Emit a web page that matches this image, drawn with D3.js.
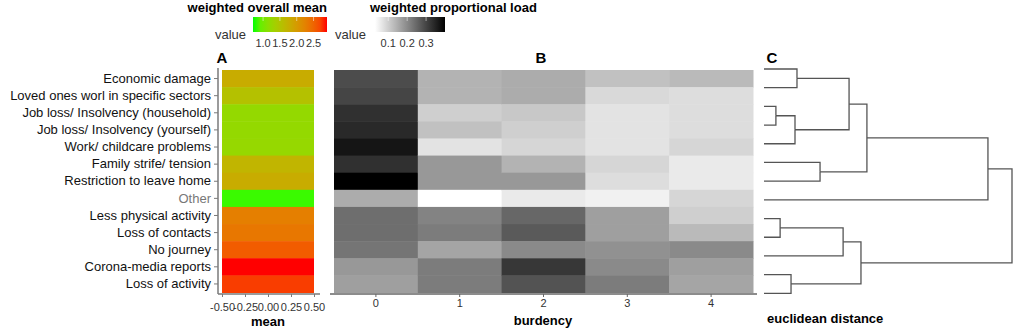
<!DOCTYPE html>
<html>
<head>
<meta charset="utf-8">
<title>burden heatmap</title>
<style>
  body { margin: 0; background: #fff; }
  svg { display: block; font-family: "Liberation Sans", Arial, sans-serif; }
</style>
</head>
<body>
<svg width="1021" height="334"></svg>
<script src="https://cdn.jsdelivr.net/npm/d3@7"></script>
<script>

// rows, top to bottom (same order as the dendrogram leaves)
const items = [
  "Economic damage", "Loved ones worl in specific sectors", "Job loss/ Insolvency (household)",
  "Job loss/ Insolvency (yourself)", "Work/ childcare problems", "Family strife/ tension",
  "Restriction to leave home", "Other", "Less physical activity", "Loss of contacts",
  "No journey", "Corona-media reports", "Loss of activity"
]

// panel A: weighted overall mean per item
const overallMean = [1.80, 1.54, 1.22, 1.22, 1.24, 1.69, 1.80, 0.77, 2.28, 2.35, 2.57, 2.90, 2.75]

// panel B: weighted proportional load, burdency 0..4
const burdency = [0, 1, 2, 3, 4]
const loadB0 = [0.29, 0.30, 0.33, 0.34, 0.37, 0.33, 0.40, 0.15, 0.24, 0.24, 0.23, 0.18, 0.17]
const loadB1 = [0.14, 0.14, 0.10, 0.12, 0.07, 0.18, 0.18, 0.03, 0.21, 0.22, 0.16, 0.22, 0.22]
const loadB2 = [0.15, 0.15, 0.11, 0.10, 0.09, 0.14, 0.18, 0.06, 0.25, 0.27, 0.20, 0.32, 0.28]
const loadB3 = [0.12, 0.085, 0.07, 0.07, 0.07, 0.09, 0.08, 0.05, 0.17, 0.17, 0.19, 0.20, 0.22]
const loadB4 = [0.13, 0.08, 0.08, 0.08, 0.09, 0.06, 0.06, 0.09, 0.10, 0.13, 0.20, 0.17, 0.16]
const loads = [loadB0, loadB1, loadB2, loadB3, loadB4]

// panel C: hierarchical clustering merges [left, right, height]; leaves are 0..12, new nodes 13..
const merges = [
  [0, 1, 1.33], [2, 3, 0.48], [14, 4, 1.25], [13, 15, 3.43], [5, 6, 2.26],
  [16, 17, 4.15], [18, 7, 9.03], [8, 9, 0.65], [20, 10, 3.19], [11, 12, 1.09],
  [21, 22, 3.91], [19, 23, 10]
]

const meanTicks = [1.0, 1.5, 2.0, 2.5]
const loadTicks = [0.1, 0.2, 0.3]
const xATicks = [-0.5, -0.25, 0, 0.25, 0.5]

const svg = d3.select("svg")
const axisCol = "#7a7a7a"

const y = d3.scaleBand().domain(items).range([70, 292.5])
const meanColor = d3.scaleLinear().domain([0.7, 2.9]).range(["#00ff00", "#ff0000"])
  .interpolate(d3.interpolateLab).clamp(true)
const loadColor = d3.scaleLinear().domain([0.03, 0.40]).range(["#ffffff", "#000000"]).clamp(true)

// ---------- legends ----------
function gradientLegend(id, scale, x0, x1, ticks, title, titleX, titleAnchor, valueX) {
  const grad = svg.append("defs").append("linearGradient").attr("id", id)
  const dom = scale.domain()
  d3.range(0, 1.0001, 0.1).forEach(t => {
    grad.append("stop").attr("offset", t).attr("stop-color", scale(dom[0] + t * (dom[1] - dom[0])))
  })
  const lx = d3.scaleLinear().domain(dom).range([x0, x1])
  svg.append("rect").attr("x", x0).attr("y", 17).attr("width", x1 - x0).attr("height", 15)
    .attr("fill", `url(#${id})`)
  svg.append("g").selectAll("line").data(ticks).join("line")
    .attr("x1", d => lx(d)).attr("x2", d => lx(d)).attr("y1", 17).attr("y2", 21)
    .attr("stroke", "#fff").attr("stroke-opacity", 0.5)
  svg.append("g").selectAll("text").data(ticks).join("text")
    .attr("x", d => lx(d)).attr("y", 43).attr("text-anchor", "middle")
    .attr("dominant-baseline", "central").attr("font-size", 11).attr("fill", "#333")
    .text(d => d.toFixed(1))
  svg.append("text").attr("x", titleX).attr("y", 7).attr("text-anchor", titleAnchor)
    .attr("dominant-baseline", "central").attr("font-size", 13).attr("font-weight", "bold")
    .text(title)
  svg.append("text").attr("x", valueX).attr("y", 34).attr("dominant-baseline", "central")
    .attr("font-size", 13).attr("fill", "#333").text("value")
}
gradientLegend("gMean", meanColor, 253, 327, meanTicks, "weighted overall mean", 327, "end", 215)
gradientLegend("gLoad", loadColor, 375, 445, loadTicks, "weighted proportional load", 370, "start", 335)

// ---------- panel A ----------
const xA = d3.scaleLinear().domain([-0.5, 0.5]).range([222, 314])
svg.append("g").selectAll("rect").data(items).join("rect")
  .attr("x", xA(-0.5)).attr("width", xA(0.5) - xA(-0.5))
  .attr("y", d => y(d)).attr("height", y.bandwidth() + 0.5)
  .attr("fill", (d, i) => meanColor(overallMean[i]))

const yAxis = svg.append("g").attr("transform", "translate(218,0)")
  .call(d3.axisLeft(y).tickSize(4).tickPadding(3))
yAxis.select(".domain").attr("stroke", axisCol).attr("stroke-width", 1.5).attr("d", "M0,68V294")
yAxis.selectAll(".tick line").attr("stroke", axisCol)
yAxis.selectAll("text").attr("font-size", 13).attr("font-family", "Liberation Sans, Arial, sans-serif")
  .attr("fill", d => d === "Other" ? "#777" : "#111")

// plain hyphen minus, as in the original (labels sit tight together there too)
const xAxisA = svg.append("g").attr("transform", "translate(0,294)")
  .call(d3.axisBottom(xA).tickValues(xATicks).tickFormat(d => d.toFixed(2)).tickSize(3).tickPadding(6))
xAxisA.select(".domain").attr("stroke", axisCol).attr("stroke-width", 1.5).attr("d", "M218,0H320")
xAxisA.selectAll(".tick line").attr("stroke", axisCol)
xAxisA.selectAll("text").attr("font-size", 11).attr("fill", "#333")
  .attr("font-family", "Liberation Sans, Arial, sans-serif")

svg.append("text").attr("x", 268).attr("y", 321).attr("text-anchor", "middle")
  .attr("dominant-baseline", "central").attr("font-size", 13).attr("font-weight", "bold").text("mean")

// ---------- panel B ----------
const xB = d3.scaleBand().domain(burdency).range([334, 753])
const cells = []
burdency.forEach((b, j) => items.forEach((it, i) => cells.push({ b: b, item: it, v: loads[j][i] })))
svg.append("g").selectAll("rect").data(cells).join("rect")
  .attr("x", d => xB(d.b)).attr("width", xB.bandwidth() + 0.5)
  .attr("y", d => y(d.item)).attr("height", y.bandwidth() + 0.5)
  .attr("fill", d => loadColor(d.v))

const xAxisB = svg.append("g").attr("transform", "translate(0,294)")
  .call(d3.axisBottom(xB).tickSize(3).tickPadding(2))
xAxisB.select(".domain").attr("stroke", "#666").attr("stroke-width", 1.5).attr("d", "M330,0H757")
xAxisB.selectAll(".tick line").attr("stroke", "#666")
xAxisB.selectAll("text").attr("font-size", 11).attr("fill", "#333")
  .attr("font-family", "Liberation Sans, Arial, sans-serif")

svg.append("text").attr("x", 543).attr("y", 320).attr("text-anchor", "middle")
  .attr("dominant-baseline", "central").attr("font-size", 13).attr("font-weight", "bold").text("burdency")

// ---------- panel C: dendrogram ----------
const nodes = items.map((d, i) => ({ id: i, name: d, height: 0 }))
merges.forEach(m => nodes.push({ id: nodes.length, height: m[2], children: [nodes[m[0]], nodes[m[1]]] }))
const root = d3.hierarchy(nodes[nodes.length - 1])

const yLeaf = d3.scalePoint().domain(d3.range(items.length)).range([69, 293.3])
const xDist = d3.scaleLinear().domain([0, 10]).range([764, 1012])
root.eachAfter(n => {
  n.px = xDist(n.data.height)
  n.py = n.children ? d3.mean(n.children, c => c.py) : yLeaf(n.data.id)
})
svg.append("g").attr("fill", "none").attr("stroke", "#555").attr("stroke-width", 1.3)
  .selectAll("path").data(root.descendants().filter(n => n.parent)).join("path")
  .attr("d", n => `M${n.px},${n.py}H${n.parent.px}V${n.parent.py}`)

svg.append("text").attr("x", 767).attr("y", 318).attr("dominant-baseline", "central")
  .attr("font-size", 13).attr("font-weight", "bold").text("euclidean distance")

// panel letters
svg.append("g").selectAll("text").data([["A", 222], ["B", 541], ["C", 772]]).join("text")
  .attr("x", d => d[1]).attr("y", 57).attr("text-anchor", "middle").attr("dominant-baseline", "central")
  .attr("font-size", 15).attr("font-weight", "bold").text(d => d[0])

</script>
</body>
</html>
